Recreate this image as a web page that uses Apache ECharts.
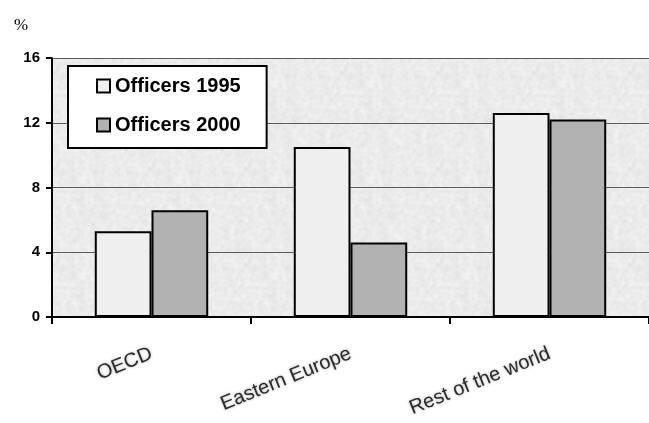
<!DOCTYPE html>
<html>
<head>
<meta charset="utf-8">
<script src="https://cdn.jsdelivr.net/npm/echarts@6/dist/echarts.min.js"></script>
<style>
  html, body { margin: 0; padding: 0; background: #fff; }
  #chart { width: 649px; height: 423px; }
</style>
</head>
<body>
<div id="chart"></div>
<script>
// Regions shown on the category axis
const regions = ['OECD', 'Eastern Europe', 'Rest of the world'];
// Share of officers (%) by year
const officers1995 = [5.3, 10.5, 12.6];
const officers2000 = [6.6, 4.6, 12.2];
const seriesNames = ['Officers 1995', 'Officers 2000'];
// Value axis ticks
const yTicks = [0, 4, 8, 12, 16];

// Mottled grey fill for the plot area, built from a deterministic hash
function makeGranite() {
  const size = 96;
  const raw = document.createElement('canvas');
  raw.width = raw.height = size;
  const rctx = raw.getContext('2d');
  const img = rctx.createImageData(size, size);
  for (let y = 0; y < size; y++) {
    for (let x = 0; x < size; x++) {
      const h = Math.sin(x * 12.9898 + y * 78.233) * 43758.5453;
      const f = h - Math.floor(h);
      const v = Math.round(216 + f * 38);
      const i = (y * size + x) * 4;
      img.data[i] = img.data[i + 1] = img.data[i + 2] = v;
      img.data[i + 3] = 255;
    }
  }
  rctx.putImageData(img, 0, 0);
  const out = document.createElement('canvas');
  out.width = out.height = size;
  const octx = out.getContext('2d');
  octx.fillStyle = '#e8e8e8';
  octx.fillRect(0, 0, size, size);
  octx.filter = 'blur(1px)';
  for (let dx = -1; dx <= 1; dx++) {
    for (let dy = -1; dy <= 1; dy++) {
      octx.drawImage(raw, dx * size, dy * size);
    }
  }
  return out;
}

const chart = echarts.init(document.getElementById('chart'), null, { renderer: 'canvas' });
const font = '"Liberation Sans", Arial, sans-serif';

chart.setOption({
  animation: false,
  title: {
    text: '%',
    left: 9,
    top: 12,
    textStyle: { fontFamily: '"Liberation Serif", "Times New Roman", serif', fontSize: 17, fontWeight: 'normal', color: '#000' }
  },
  legend: {
    data: seriesNames,
    orient: 'vertical',
    left: 68,
    top: 66,
    padding: [10, 26, 13, 28],
    itemGap: 19,
    itemWidth: 13,
    itemHeight: 13,
    itemTextGap: 4,
    icon: 'rect',
    backgroundColor: '#fff',
    borderColor: '#000',
    borderWidth: 2,
    borderRadius: 0,
    textStyle: { fontFamily: font, fontSize: 20, fontWeight: 'bold', color: '#000' }
  },
  grid: {
    left: 52,
    top: 58,
    width: 600,
    height: 259,
    show: true,
    borderWidth: 0,
    backgroundColor: { image: makeGranite(), repeat: 'repeat' }
  },
  xAxis: {
    type: 'category',
    data: regions,
    axisLine: { lineStyle: { color: '#000', width: 2 } },
    axisTick: { show: true, length: 7, lineStyle: { color: '#000', width: 2 } },
    axisLabel: {
      rotate: 22,
      margin: 36,
      interval: 0,
      fontFamily: font,
      fontSize: 20,
      color: '#2a2a2a',
      textShadowColor: 'rgba(0,0,0,0.35)',
      textShadowBlur: 3
    }
  },
  yAxis: {
    type: 'value',
    min: yTicks[0],
    max: yTicks[yTicks.length - 1],
    interval: 4,
    axisLine: { show: true, lineStyle: { color: '#000', width: 2 } },
    axisTick: { show: true, length: 6, lineStyle: { color: '#000', width: 2 } },
    axisLabel: {
      margin: 12,
      fontFamily: font,
      fontSize: 15,
      fontWeight: 'bold',
      color: '#000'
    },
    splitLine: { show: true, lineStyle: { color: '#5a5a5a', width: 1 } }
  },
  series: [
    {
      name: seriesNames[0],
      type: 'bar',
      data: officers1995,
      barGap: '0%',
      barCategoryGap: '43%',
      itemStyle: { color: '#efefef', borderColor: '#000', borderWidth: 2 }
    },
    {
      name: seriesNames[1],
      type: 'bar',
      data: officers2000,
      itemStyle: { color: '#b2b2b2', borderColor: '#000', borderWidth: 2 }
    }
  ]
});
</script>
</body>
</html>
